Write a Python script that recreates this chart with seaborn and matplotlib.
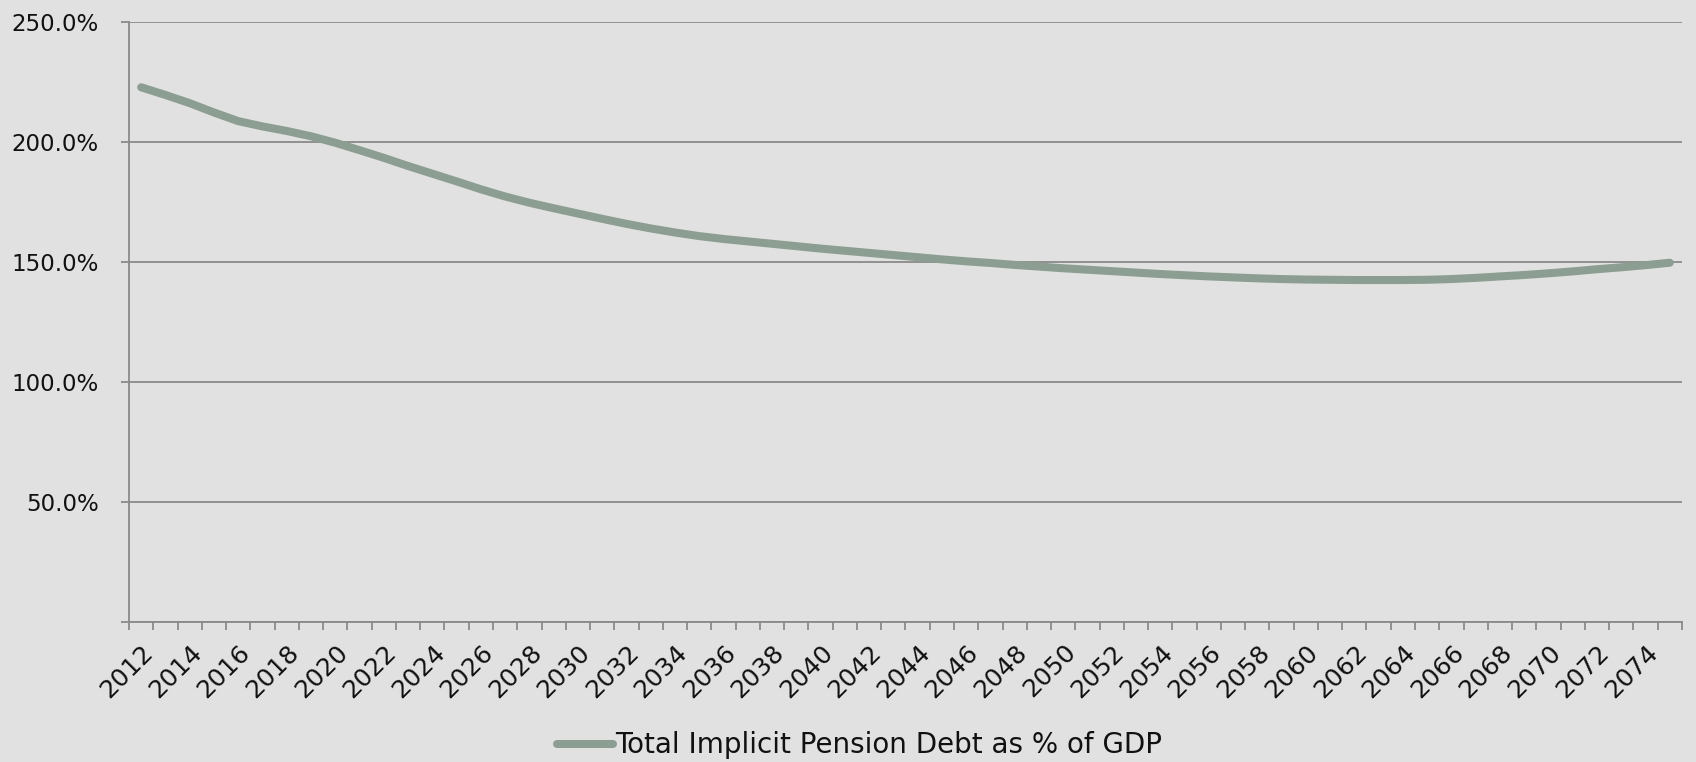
import matplotlib
matplotlib.use("Agg")
import matplotlib.pyplot as plt
import seaborn as sns
import numpy as np
import pandas as pd
from matplotlib.lines import Line2D

# ---- data ----
years = list(range(2012, 2076))
debt_pct = [
    222.8, 219.6, 216.2, 212.3, 208.7, 206.5, 204.6, 202.4, 199.7, 196.6,
    193.4, 190.0, 186.8, 183.6, 180.3, 177.3, 174.7, 172.4, 170.2, 168.0,
    165.9, 164.0, 162.3, 160.8, 159.6, 158.6, 157.6, 156.6, 155.6, 154.7,
    153.8, 152.9, 152.0, 151.1, 150.3, 149.6, 148.8, 148.1, 147.4, 146.8,
    146.2, 145.6, 145.0, 144.5, 144.0, 143.6, 143.2, 142.9, 142.7, 142.6,
    142.5, 142.5, 142.5, 142.6, 142.9, 143.4, 144.0, 144.6, 145.3, 146.1,
    147.0, 147.8, 148.7, 149.7,
]
y_ticks = [0, 50, 100, 150, 200, 250]
y_tick_labels = ["", "50.0%", "100.0%", "150.0%", "200.0%", "250.0%"]
x_label_years = years[::2]
series_label = "Total Implicit Pension Debt as % of GDP"

# ---- style ----
BG = "#e1e1e1"
LINE = "#8c9e91"
GRID = "#8a8a8a"
TXT = "#111111"

sns.set_theme(style="white")
plt.rcParams["font.family"] = ["DejaVu Sans"]

fig = plt.figure(figsize=(16.96, 7.62), dpi=100, facecolor=BG)
ax = fig.add_axes([0.0761, 0.1837, 0.9156, 0.7874])
ax.set_facecolor(BG)

df = pd.DataFrame({"Year": years, "Debt": debt_pct})
sns.lineplot(data=df, x="Year", y="Debt", ax=ax, color=LINE, linewidth=5.8,
             legend=False, zorder=3)
for ln in ax.lines:
    ln.set_solid_capstyle("round")

ax.set_xlim(years[0] - 0.5, years[-1] + 0.5)
ax.set_ylim(0, 250)
ax.set_xlabel("")
ax.set_ylabel("")

# grid
ax.set_yticks(y_ticks)
ax.set_yticklabels(y_tick_labels)
ax.yaxis.grid(True, color=GRID, linewidth=1.3)
ax.xaxis.grid(False)
ax.set_axisbelow(True)

for s in ["top", "right"]:
    ax.spines[s].set_visible(False)
for s in ["left", "bottom"]:
    ax.spines[s].set_color(GRID)
    ax.spines[s].set_linewidth(1.3)

# x ticks: labels at category centres, tick marks between categories
ax.set_xticks(x_label_years)
ax.set_xticklabels([str(y) for y in x_label_years], rotation=45, ha="right",
                   rotation_mode="anchor")
ax.set_xticks(np.arange(years[0] - 0.5, years[-1] + 1.5, 1), minor=True)
ax.tick_params(axis="x", which="major", length=0, pad=13, labelsize=18,
               labelcolor=TXT)
ax.tick_params(axis="x", which="minor", length=6, width=1.3, color=GRID,
               direction="out", bottom=True)
ax.tick_params(axis="y", which="major", length=6, width=1.3, color=GRID,
               direction="out", pad=16, labelsize=16.5, labelcolor=TXT, left=True)

# legend
handle = Line2D([0], [0], color=LINE, linewidth=5.8, solid_capstyle="round")
fig.legend([handle], [series_label], loc="center",
           bbox_to_anchor=(0.507, 0.022), frameon=False, fontsize=20,
           handlelength=2.0, handletextpad=0.1, labelcolor=TXT)

fig.savefig("out.png", dpi=100, facecolor=BG)
